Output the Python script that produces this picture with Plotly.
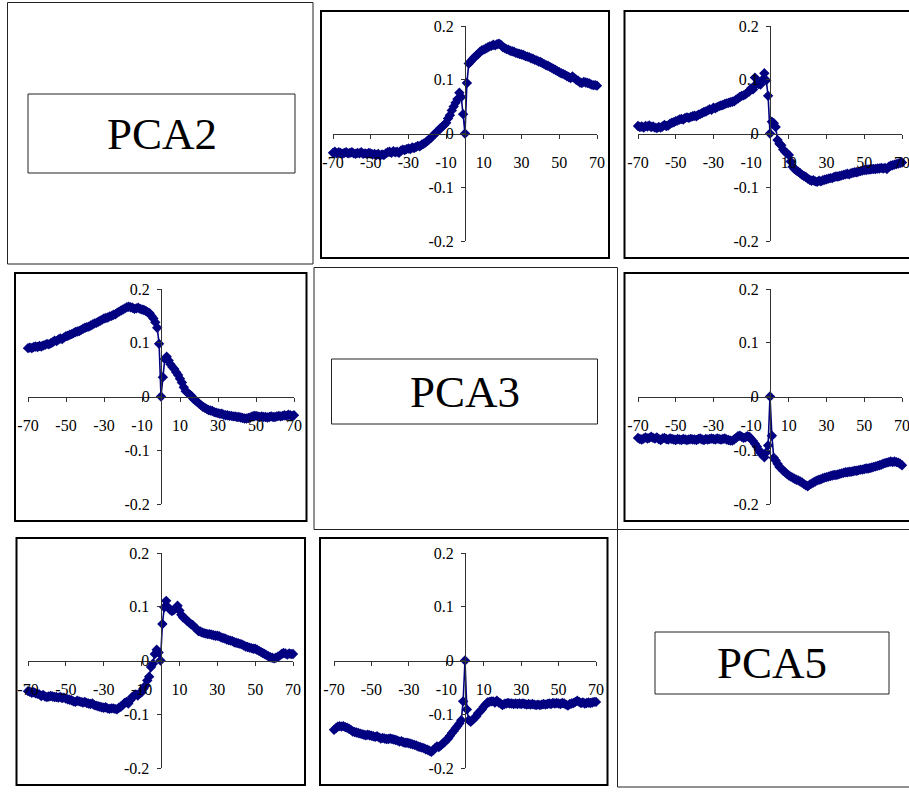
import plotly.graph_objects as go

# ---------------- data ----------------
lags = list(range(-70, 71))
x_tick_vals = [-70, -50, -30, -10, 10, 30, 50, 70]
x_tick_text = ["-70", "-50", "-30", "-10", "10", "30", "50", "70"]
y_tick_vals = [-0.2, -0.1, 0.0, 0.1, 0.2]
y_tick_text = ["-0.2", "-0.1", "0", "0.1", "0.2"]
diag_labels = ["PCA2", "PCA3", "PCA5"]

# row 1, col 2
pca2_pca3 = [
    -0.036, -0.034, -0.037, -0.035, -0.036, -0.038, -0.036, -0.035, -0.037, -0.036,
    -0.035, -0.037, -0.038, -0.036, -0.037, -0.035, -0.038, -0.037, -0.038, -0.036,
    -0.037, -0.039, -0.038, -0.040, -0.038, -0.041, -0.039, -0.040, -0.037, -0.035,
    -0.034, -0.036, -0.033, -0.035, -0.034, -0.036, -0.032, -0.030, -0.031, -0.029,
    -0.028, -0.029, -0.026, -0.027, -0.025, -0.023, -0.024, -0.021, -0.019, -0.017,
    -0.014, -0.011, -0.008, -0.004, -0.001, 0.003, 0.006, 0.010, 0.013, 0.016,
    0.020, 0.028, 0.034, 0.043, 0.050, 0.057, 0.064, 0.076, 0.068, 0.036,
    0.000,
    0.094, 0.130, 0.134, 0.138, 0.142, 0.145, 0.148, 0.152, 0.155, 0.156,
    0.158, 0.160, 0.162, 0.163, 0.165, 0.164, 0.166, 0.167, 0.165, 0.161,
    0.159, 0.157, 0.156, 0.154, 0.153, 0.152, 0.150, 0.149, 0.148, 0.147,
    0.146, 0.144, 0.143, 0.142, 0.140, 0.139, 0.137, 0.136, 0.134, 0.133,
    0.131, 0.129, 0.127, 0.126, 0.124, 0.122, 0.120, 0.118, 0.116, 0.114,
    0.112, 0.111, 0.109, 0.107, 0.105, 0.103, 0.106, 0.103, 0.100, 0.098,
    0.095, 0.094, 0.096, 0.095, 0.094, 0.093, 0.091, 0.090, 0.090, 0.089,
]

# row 1, col 3
pca2_pca5 = [
    0.014, 0.012, 0.013, 0.011, 0.014, 0.013, 0.015, 0.012, 0.013, 0.011,
    0.010, 0.012, 0.011, 0.013, 0.016, 0.014, 0.015, 0.018, 0.020, 0.021,
    0.023, 0.024, 0.026, 0.027, 0.026, 0.029, 0.030, 0.029, 0.031, 0.032,
    0.033, 0.032, 0.035, 0.036, 0.038, 0.040, 0.041, 0.043, 0.045, 0.044,
    0.048, 0.047, 0.049, 0.051, 0.052, 0.053, 0.055, 0.056, 0.057, 0.058,
    0.059, 0.060, 0.063, 0.065, 0.068, 0.070, 0.071, 0.073, 0.076, 0.078,
    0.084, 0.082, 0.104, 0.093, 0.092, 0.091, 0.100, 0.112, 0.099, 0.070,
    0.000,
    0.022, 0.019, 0.012, -0.012, -0.019, -0.022, -0.030, -0.034, -0.037, -0.040,
    -0.052, -0.062, -0.066, -0.069, -0.071, -0.074, -0.077, -0.079, -0.081, -0.084,
    -0.086, -0.088, -0.087, -0.089, -0.090, -0.088, -0.089, -0.087, -0.086, -0.085,
    -0.084, -0.083, -0.083, -0.081, -0.080, -0.080, -0.079, -0.078, -0.077, -0.076,
    -0.075, -0.076, -0.074, -0.073, -0.072, -0.072, -0.071, -0.070, -0.069, -0.068,
    -0.068, -0.067, -0.067, -0.066, -0.066, -0.066, -0.065, -0.065, -0.064, -0.065,
    -0.064, -0.066, -0.062, -0.060, -0.059, -0.058, -0.057, -0.056, -0.055, -0.054,
]

# row 2, col 1
pca3_pca2 = [
    0.090, 0.091, 0.090, 0.092, 0.093, 0.092, 0.094, 0.093, 0.095, 0.096,
    0.098, 0.097, 0.099, 0.101, 0.104, 0.103, 0.106, 0.108, 0.107, 0.110,
    0.112, 0.113, 0.115, 0.116, 0.118, 0.120, 0.121, 0.122, 0.124, 0.126,
    0.128, 0.129, 0.130, 0.132, 0.134, 0.136, 0.137, 0.139, 0.141, 0.143,
    0.145, 0.146, 0.147, 0.149, 0.150, 0.152, 0.153, 0.156, 0.158, 0.160,
    0.162, 0.164, 0.166, 0.167, 0.166, 0.165, 0.163, 0.164, 0.165, 0.163,
    0.162, 0.161, 0.159, 0.157, 0.155, 0.150, 0.145, 0.138, 0.128, 0.098,
    0.000,
    0.036, 0.070, 0.074, 0.067, 0.060, 0.055, 0.051, 0.045, 0.040, 0.033,
    0.026, 0.017, 0.010, 0.007, 0.004, 0.001, -0.004, -0.007, -0.010, -0.013,
    -0.016, -0.019, -0.021, -0.023, -0.025, -0.026, -0.027, -0.029, -0.030, -0.031,
    -0.032, -0.032, -0.034, -0.035, -0.035, -0.036, -0.036, -0.037, -0.037, -0.038,
    -0.038, -0.039, -0.040, -0.041, -0.041, -0.040, -0.039, -0.037, -0.036, -0.036,
    -0.037, -0.038, -0.037, -0.038, -0.038, -0.039, -0.038, -0.037, -0.038, -0.038,
    -0.037, -0.036, -0.037, -0.036, -0.035, -0.036, -0.034, -0.035, -0.036, -0.035,
]

# row 2, col 3
pca3_pca5 = [
    -0.077, -0.079, -0.080, -0.078, -0.076, -0.078, -0.077, -0.075, -0.077, -0.078,
    -0.076, -0.079, -0.081, -0.078, -0.077, -0.079, -0.080, -0.078, -0.079, -0.080,
    -0.081, -0.079, -0.080, -0.081, -0.079, -0.080, -0.081, -0.080, -0.079, -0.080,
    -0.080, -0.081, -0.079, -0.078, -0.080, -0.081, -0.079, -0.080, -0.079, -0.078,
    -0.079, -0.080, -0.078, -0.079, -0.080, -0.079, -0.078, -0.080, -0.081, -0.082,
    -0.082, -0.080, -0.077, -0.074, -0.073, -0.075, -0.077, -0.076, -0.074, -0.075,
    -0.079, -0.083, -0.088, -0.093, -0.099, -0.105, -0.109, -0.113, -0.104, -0.091,
    0.000,
    -0.073, -0.114, -0.119, -0.125, -0.131, -0.134, -0.138, -0.141, -0.144, -0.147,
    -0.149, -0.151, -0.153, -0.155, -0.156, -0.158, -0.160, -0.163, -0.165, -0.167,
    -0.164, -0.162, -0.160, -0.158, -0.156, -0.155, -0.154, -0.152, -0.151, -0.150,
    -0.149, -0.148, -0.147, -0.146, -0.146, -0.145, -0.144, -0.143, -0.142, -0.141,
    -0.141, -0.140, -0.140, -0.139, -0.138, -0.138, -0.137, -0.136, -0.136, -0.135,
    -0.134, -0.134, -0.133, -0.132, -0.131, -0.130, -0.129, -0.128, -0.127, -0.125,
    -0.124, -0.123, -0.122, -0.121, -0.122, -0.121, -0.122, -0.123, -0.125, -0.128,
]

# row 3, col 1
pca5_pca2 = [
    -0.057, -0.058, -0.060, -0.059, -0.061, -0.062, -0.063, -0.066, -0.064, -0.067,
    -0.068, -0.067, -0.066, -0.067, -0.068, -0.068, -0.069, -0.068, -0.070, -0.069,
    -0.071, -0.072, -0.073, -0.074, -0.076, -0.077, -0.075, -0.076, -0.077, -0.078,
    -0.077, -0.079, -0.080, -0.081, -0.080, -0.083, -0.084, -0.085, -0.086, -0.087,
    -0.088, -0.087, -0.089, -0.090, -0.089, -0.089, -0.090, -0.091, -0.088, -0.086,
    -0.083, -0.079, -0.077, -0.080, -0.074, -0.068, -0.066, -0.063, -0.065, -0.061,
    -0.059, -0.052, -0.047, -0.037, -0.030, -0.012, -0.006, 0.012, 0.020, 0.015,
    0.000,
    0.068, 0.099, 0.111, 0.099, 0.095, 0.092, 0.094, 0.097, 0.102, 0.093,
    0.085, 0.080, 0.078, 0.074, 0.071, 0.068, 0.066, 0.062, 0.059, 0.055,
    0.054, 0.052, 0.051, 0.050, 0.049, 0.049, 0.048, 0.047, 0.046, 0.046,
    0.045, 0.043, 0.042, 0.041, 0.039, 0.038, 0.037, 0.036, 0.034, 0.033,
    0.032, 0.031, 0.030, 0.028, 0.026, 0.025, 0.024, 0.023, 0.022, 0.022,
    0.020, 0.018, 0.016, 0.014, 0.012, 0.010, 0.008, 0.006, 0.005, 0.004,
    0.005, 0.007, 0.009, 0.012, 0.014, 0.013, 0.011, 0.013, 0.012, 0.012,
]

# row 3, col 2
pca5_pca3 = [
    -0.129, -0.126, -0.123, -0.122, -0.123, -0.122, -0.124, -0.125, -0.127, -0.129,
    -0.132, -0.133, -0.134, -0.135, -0.136, -0.137, -0.138, -0.139, -0.138, -0.139,
    -0.140, -0.141, -0.142, -0.141, -0.143, -0.145, -0.144, -0.145, -0.146, -0.146,
    -0.145, -0.146, -0.147, -0.148, -0.149, -0.151, -0.150, -0.152, -0.153, -0.153,
    -0.154, -0.155, -0.156, -0.157, -0.158, -0.160, -0.161, -0.162, -0.163, -0.165,
    -0.166, -0.168, -0.170, -0.167, -0.163, -0.160, -0.161, -0.158, -0.155, -0.152,
    -0.148, -0.145, -0.140, -0.135, -0.131, -0.126, -0.122, -0.117, -0.111, -0.076,
    0.000,
    -0.091, -0.111, -0.114, -0.111, -0.107, -0.104, -0.098, -0.095, -0.091, -0.086,
    -0.082, -0.078, -0.077, -0.076, -0.076, -0.078, -0.075, -0.078, -0.080, -0.083,
    -0.081, -0.080, -0.079, -0.080, -0.080, -0.081, -0.080, -0.081, -0.080, -0.081,
    -0.080, -0.081, -0.082, -0.081, -0.082, -0.081, -0.082, -0.083, -0.082, -0.083,
    -0.082, -0.081, -0.082, -0.081, -0.080, -0.081, -0.079, -0.080, -0.079, -0.080,
    -0.081, -0.079, -0.080, -0.082, -0.084, -0.081, -0.080, -0.079, -0.077, -0.075,
    -0.077, -0.079, -0.078, -0.080, -0.079, -0.078, -0.079, -0.078, -0.077, -0.077,
]

# ---------------- layout geometry (pixels) ----------------
W, H = 909, 792
NAVY = "#000080"
FONT = "Liberation Serif, Times New Roman, serif"


def px(xp):
    return xp / W


def py(yp):
    return 1 - yp / H


# (series, plot-area left, right, top, bottom, panel box l, r, t, b)
charts = [
    (pca2_pca3, 333, 597, 26, 241, 321, 609, 11, 258),
    (pca2_pca5, 638, 902, 26, 241, 624.5, 915, 11, 258),
    (pca3_pca2, 28, 294, 289, 504, 15, 306.5, 273, 521),
    (pca3_pca5, 638, 902, 289, 504, 624.5, 915, 273, 521),
    (pca5_pca2, 28, 293, 553, 768, 16.5, 305, 538, 785),
    (pca5_pca3, 334, 596, 553, 768, 320, 607.5, 538, 785),
]

# (label, outer l, r, t, b, inner box l, r, t, b)
labels = [
    (diag_labels[0], 7.5, 313, 2.5, 264, 28, 295, 94, 173),
    (diag_labels[1], 314, 617.5, 267.5, 529.5, 331.5, 597.5, 359, 424),
    (diag_labels[2], 617.5, 915, 529.5, 787, 655, 889, 632, 694),
]

fig = go.Figure()
shapes = []
annotations = []
layout_axes = {}

for i, (ser, l, r, t, b, bl, br, bt, bb) in enumerate(charts, start=1):
    xa = "x" if i == 1 else f"x{i}"
    ya = "y" if i == 1 else f"y{i}"
    fig.add_trace(go.Scatter(
        x=lags, y=ser, xaxis=xa, yaxis=ya, mode="lines+markers",
        line=dict(color=NAVY, width=1.6),
        marker=dict(symbol="diamond", size=8, color=NAVY),
        cliponaxis=False, showlegend=False, hoverinfo="skip",
    ))
    xkey = "xaxis" if i == 1 else f"xaxis{i}"
    ykey = "yaxis" if i == 1 else f"yaxis{i}"
    layout_axes[xkey] = dict(
        domain=[px(l), px(r)], range=[-70, 70], anchor="free",
        position=py((t + b) / 2),
        showline=True, linecolor="#333333", linewidth=1,
        showgrid=False, zeroline=False,
        tickmode="array", tickvals=x_tick_vals, ticktext=x_tick_text,
        ticks="outside", ticklen=4, tickcolor="#333333", tickwidth=1,
        ticklabelstandoff=10, ticklabeloverflow="allow",
        tickfont=dict(family=FONT, size=16, color="black"),
        fixedrange=True,
    )
    layout_axes[ykey] = dict(
        domain=[py(b), py(t)], range=[-0.2, 0.2], anchor="free",
        position=px((l + r) / 2),
        showline=True, linecolor="#333333", linewidth=1,
        showgrid=False, zeroline=False,
        tickmode="array", tickvals=y_tick_vals, ticktext=y_tick_text,
        ticks="outside", ticklen=4, tickcolor="#333333", tickwidth=1,
        ticklabelstandoff=4, ticklabeloverflow="allow",
        tickfont=dict(family=FONT, size=16, color="black"),
        fixedrange=True,
    )
    shapes.append(dict(
        type="rect", xref="paper", yref="paper",
        x0=px(bl), x1=px(br), y0=py(bb), y1=py(bt),
        line=dict(color="black", width=2), layer="below",
    ))

for text, ol, orr, ot, ob, il, ir, it, ib in labels:
    shapes.append(dict(
        type="rect", xref="paper", yref="paper",
        x0=px(ol), x1=px(orr), y0=py(ob), y1=py(ot),
        line=dict(color="#222222", width=1),
    ))
    shapes.append(dict(
        type="rect", xref="paper", yref="paper",
        x0=px(il), x1=px(ir), y0=py(ib), y1=py(it),
        line=dict(color="#222222", width=1),
    ))
    annotations.append(dict(
        text=text, xref="paper", yref="paper",
        x=px((il + ir) / 2), y=py((it + ib) / 2),
        xanchor="center", yanchor="middle", showarrow=False,
        font=dict(family=FONT, size=45, color="black"),
    ))

fig.update_layout(
    width=W, height=H,
    margin=dict(l=0, r=0, t=0, b=0, pad=0, autoexpand=False),
    paper_bgcolor="white", plot_bgcolor="rgba(0,0,0,0)",
    shapes=shapes, annotations=annotations, **layout_axes,
)

fig.write_html(
    "out.html",
    config={"displayModeBar": False, "staticPlot": True},
    post_script="document.body.style.margin='0';document.body.style.overflow='hidden';",
)
